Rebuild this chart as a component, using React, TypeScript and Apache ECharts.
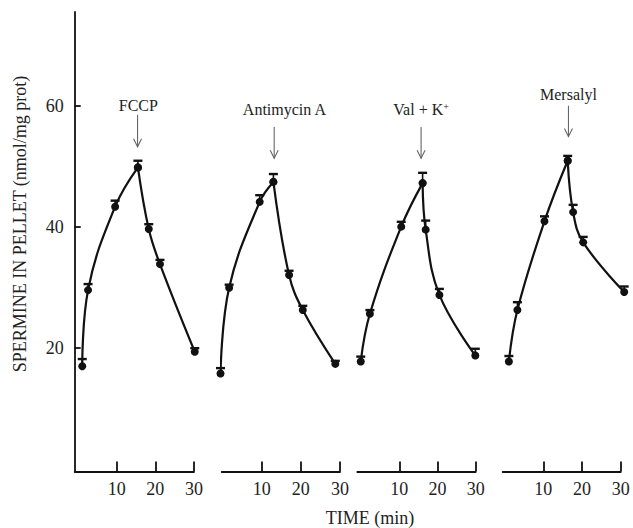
import React, { useEffect, useRef } from "react";
import * as echarts from "echarts";

// ---- data ----
const xTicks = [10, 20, 30];
const yTicks = [20, 40, 60];

const times1 = [1.1, 2.6, 9.6, 15.5, 18.3, 21.2, 30.2];
const values1 = [16.9, 29.5, 43.3, 49.8, 39.6, 33.8, 19.3];
const errTop1 = [18.1, 30.5, 44.3, 50.9, 40.4, 34.5, 19.9];

const times2 = [-0.5, 1.7, 9.5, 13.0, 17.0, 20.5, 28.8];
const values2 = [15.7, 29.9, 44.1, 47.4, 32.0, 26.2, 17.3];
const errTop2 = [16.6, 30.4, 45.2, 48.7, 32.7, 26.9, 17.8];

const times3 = [-0.1, 2.3, 10.5, 16.1, 16.9, 20.5, 29.9];
const values3 = [17.7, 25.6, 40.0, 47.2, 39.5, 28.7, 18.7];
const errTop3 = [18.5, 26.2, 40.8, 48.9, 41.0, 29.7, 19.8];

const times4 = [1.1, 3.3, 10.3, 16.3, 17.7, 20.3, 30.9];
const values4 = [17.7, 26.2, 40.9, 50.9, 42.4, 37.4, 29.2];
const errTop4 = [18.6, 27.5, 41.7, 51.7, 43.6, 38.3, 30.1];

const peakIndex = [3, 3, 3, 3];

const treatments = ["FCCP", "Antimycin A", "Val + K{sup|+}", "Mersalyl"];
const arrowTime = [15.4, 13.2, 15.7, 16.5];
const arrowTop = [58.5, 56.5, 56.5, 60.0];
const arrowBottom = [53.2, 51.3, 51.3, 54.9];
const labelTime = [15.6, 15.8, 15.7, 16.5];
const labelValue = [60.1, 59.3, 59.3, 61.8];

const xMin = [-0.85, -0.2, -1, -0.5];
const xMax = 30;
const yMin = -0.5;
const yMax = 75.5;

// ---- layout ----
const panelLeft = [74.7, 221.7, 357.3, 502.7];
const panelWidth = [119.3, 118.3, 118.4, 118];
const FONT = '"Liberation Serif", "Times New Roman", serif';
const INK = "#111";

const allTimes = [times1, times2, times3, times4];
const allValues = [values1, values2, values3, values4];
const allErr = [errTop1, errTop2, errTop3, errTop4];

export default function App() {
  const ref = useRef<HTMLDivElement>(null);

  useEffect(() => {
    if (!ref.current) return;
    const chart = echarts.init(ref.current, undefined, { renderer: "svg" });

    const grids = panelLeft.map((l, i) => ({
      left: l,
      width: panelWidth[i],
      top: 12,
      bottom: 56.5,
      containLabel: false,
      outerBoundsMode: "none",
    }));

    const xAxes = panelLeft.map((_, i) => ({
      type: "value",
      gridIndex: i,
      min: xMin[i],
      max: xMax,
      axisLine: { show: true, onZero: false, lineStyle: { color: INK, width: 1.8 } },
      axisTick: {
        show: true,
        inside: true,
        length: 10,
        customValues: xTicks,
        lineStyle: { color: INK, width: 1.8 },
      },
      axisLabel: {
        customValues: xTicks,
        fontFamily: FONT,
        fontSize: 18,
        color: "#222",
        margin: 8,
      },
      splitLine: { show: false },
    }));

    const yAxes = panelLeft.map((_, i) => ({
      type: "value",
      gridIndex: i,
      min: yMin,
      max: yMax,
      show: i === 0,
      axisLine: { show: true, onZero: false, lineStyle: { color: INK, width: 1.8 } },
      axisTick: {
        show: true,
        inside: true,
        length: 6,
        customValues: yTicks,
        lineStyle: { color: INK, width: 1.8 },
      },
      axisLabel: {
        customValues: yTicks,
        fontFamily: FONT,
        fontSize: 18,
        color: "#222",
        margin: 11,
      },
      splitLine: { show: false },
    }));

    const series: any[] = [];
    for (let i = 0; i < 4; i++) {
      const pts = allTimes[i].map((t, k) => [t, allValues[i][k]]);
      const pk = peakIndex[i];
      const lineCommon = {
        type: "line",
        xAxisIndex: i,
        yAxisIndex: i,
        smooth: 0.4,
        clip: false,
        symbol: "circle",
        symbolSize: 8,
        itemStyle: { color: INK },
        lineStyle: { color: INK, width: 2.2 },
        z: 5,
      };
      series.push({ ...lineCommon, data: pts.slice(0, pk + 1) });
      series.push({ ...lineCommon, data: pts.slice(pk) });
      series.push({
        type: "custom",
        xAxisIndex: i,
        yAxisIndex: i,
        clip: false,
        z: 4,
        data: allTimes[i].map((t, k) => [t, allValues[i][k], allErr[i][k]]),
        renderItem: (params: any, api: any) => {
          const p = api.coord([api.value(0), api.value(1)]);
          const q = api.coord([api.value(0), api.value(2)]);
          return {
            type: "group",
            children: [
              {
                type: "line",
                shape: { x1: p[0], y1: p[1], x2: q[0], y2: q[1] },
                style: { stroke: INK, lineWidth: 1.6 },
              },
              {
                type: "line",
                shape: { x1: q[0] - 4.5, y1: q[1], x2: q[0] + 4.5, y2: q[1] },
                style: { stroke: INK, lineWidth: 2.4 },
              },
            ],
          };
        },
      });
      series.push({
        type: "custom",
        xAxisIndex: i,
        yAxisIndex: i,
        clip: false,
        z: 6,
        data: [[arrowTime[i], arrowTop[i], arrowBottom[i], labelTime[i], labelValue[i]]],
        renderItem: (params: any, api: any) => {
          const top = api.coord([api.value(0), api.value(1)]);
          const bot = api.coord([api.value(0), api.value(2)]);
          const lab = api.coord([api.value(3), api.value(4)]);
          return {
            type: "group",
            children: [
              {
                type: "line",
                shape: { x1: top[0], y1: top[1], x2: bot[0], y2: bot[1] },
                style: { stroke: "#666", lineWidth: 1.1 },
              },
              {
                type: "polyline",
                shape: {
                  points: [
                    [bot[0] - 4, bot[1] - 8],
                    [bot[0], bot[1]],
                    [bot[0] + 4, bot[1] - 8],
                  ],
                },
                style: { stroke: "#666", lineWidth: 1.1, fill: "none" },
              },
              {
                type: "text",
                x: lab[0],
                y: lab[1],
                style: {
                  text: treatments[i],
                  fontFamily: FONT,
                  fontSize: 16,
                  fill: "#222",
                  align: "center",
                  verticalAlign: "middle",
                  rich: {
                    sup: { fontSize: 10, fontFamily: FONT, verticalAlign: "top", fill: "#222" },
                  },
                },
              },
            ],
          };
        },
      });
    }

    chart.setOption({
      animation: false,
      backgroundColor: "#ffffff",
      grid: grids,
      xAxis: xAxes,
      yAxis: yAxes,
      series,
      graphic: [
        {
          type: "text",
          x: 20,
          y: 224,
          rotation: Math.PI / 2,
          style: {
            text: "SPERMINE IN PELLET (nmol/mg prot)",
            fontFamily: FONT,
            fontSize: 18,
            fill: "#222",
            align: "center",
            verticalAlign: "middle",
          },
        },
        {
          type: "text",
          x: 370,
          y: 518,
          style: {
            text: "TIME (min)",
            fontFamily: FONT,
            fontSize: 18,
            fill: "#222",
            align: "center",
            verticalAlign: "middle",
          },
        },
      ],
    });

    return () => chart.dispose();
  }, []);

  return (
    <div
      ref={ref}
      style={{ position: "fixed", left: 0, top: 0, width: 633, height: 528, background: "#fff" }}
    />
  );
}
